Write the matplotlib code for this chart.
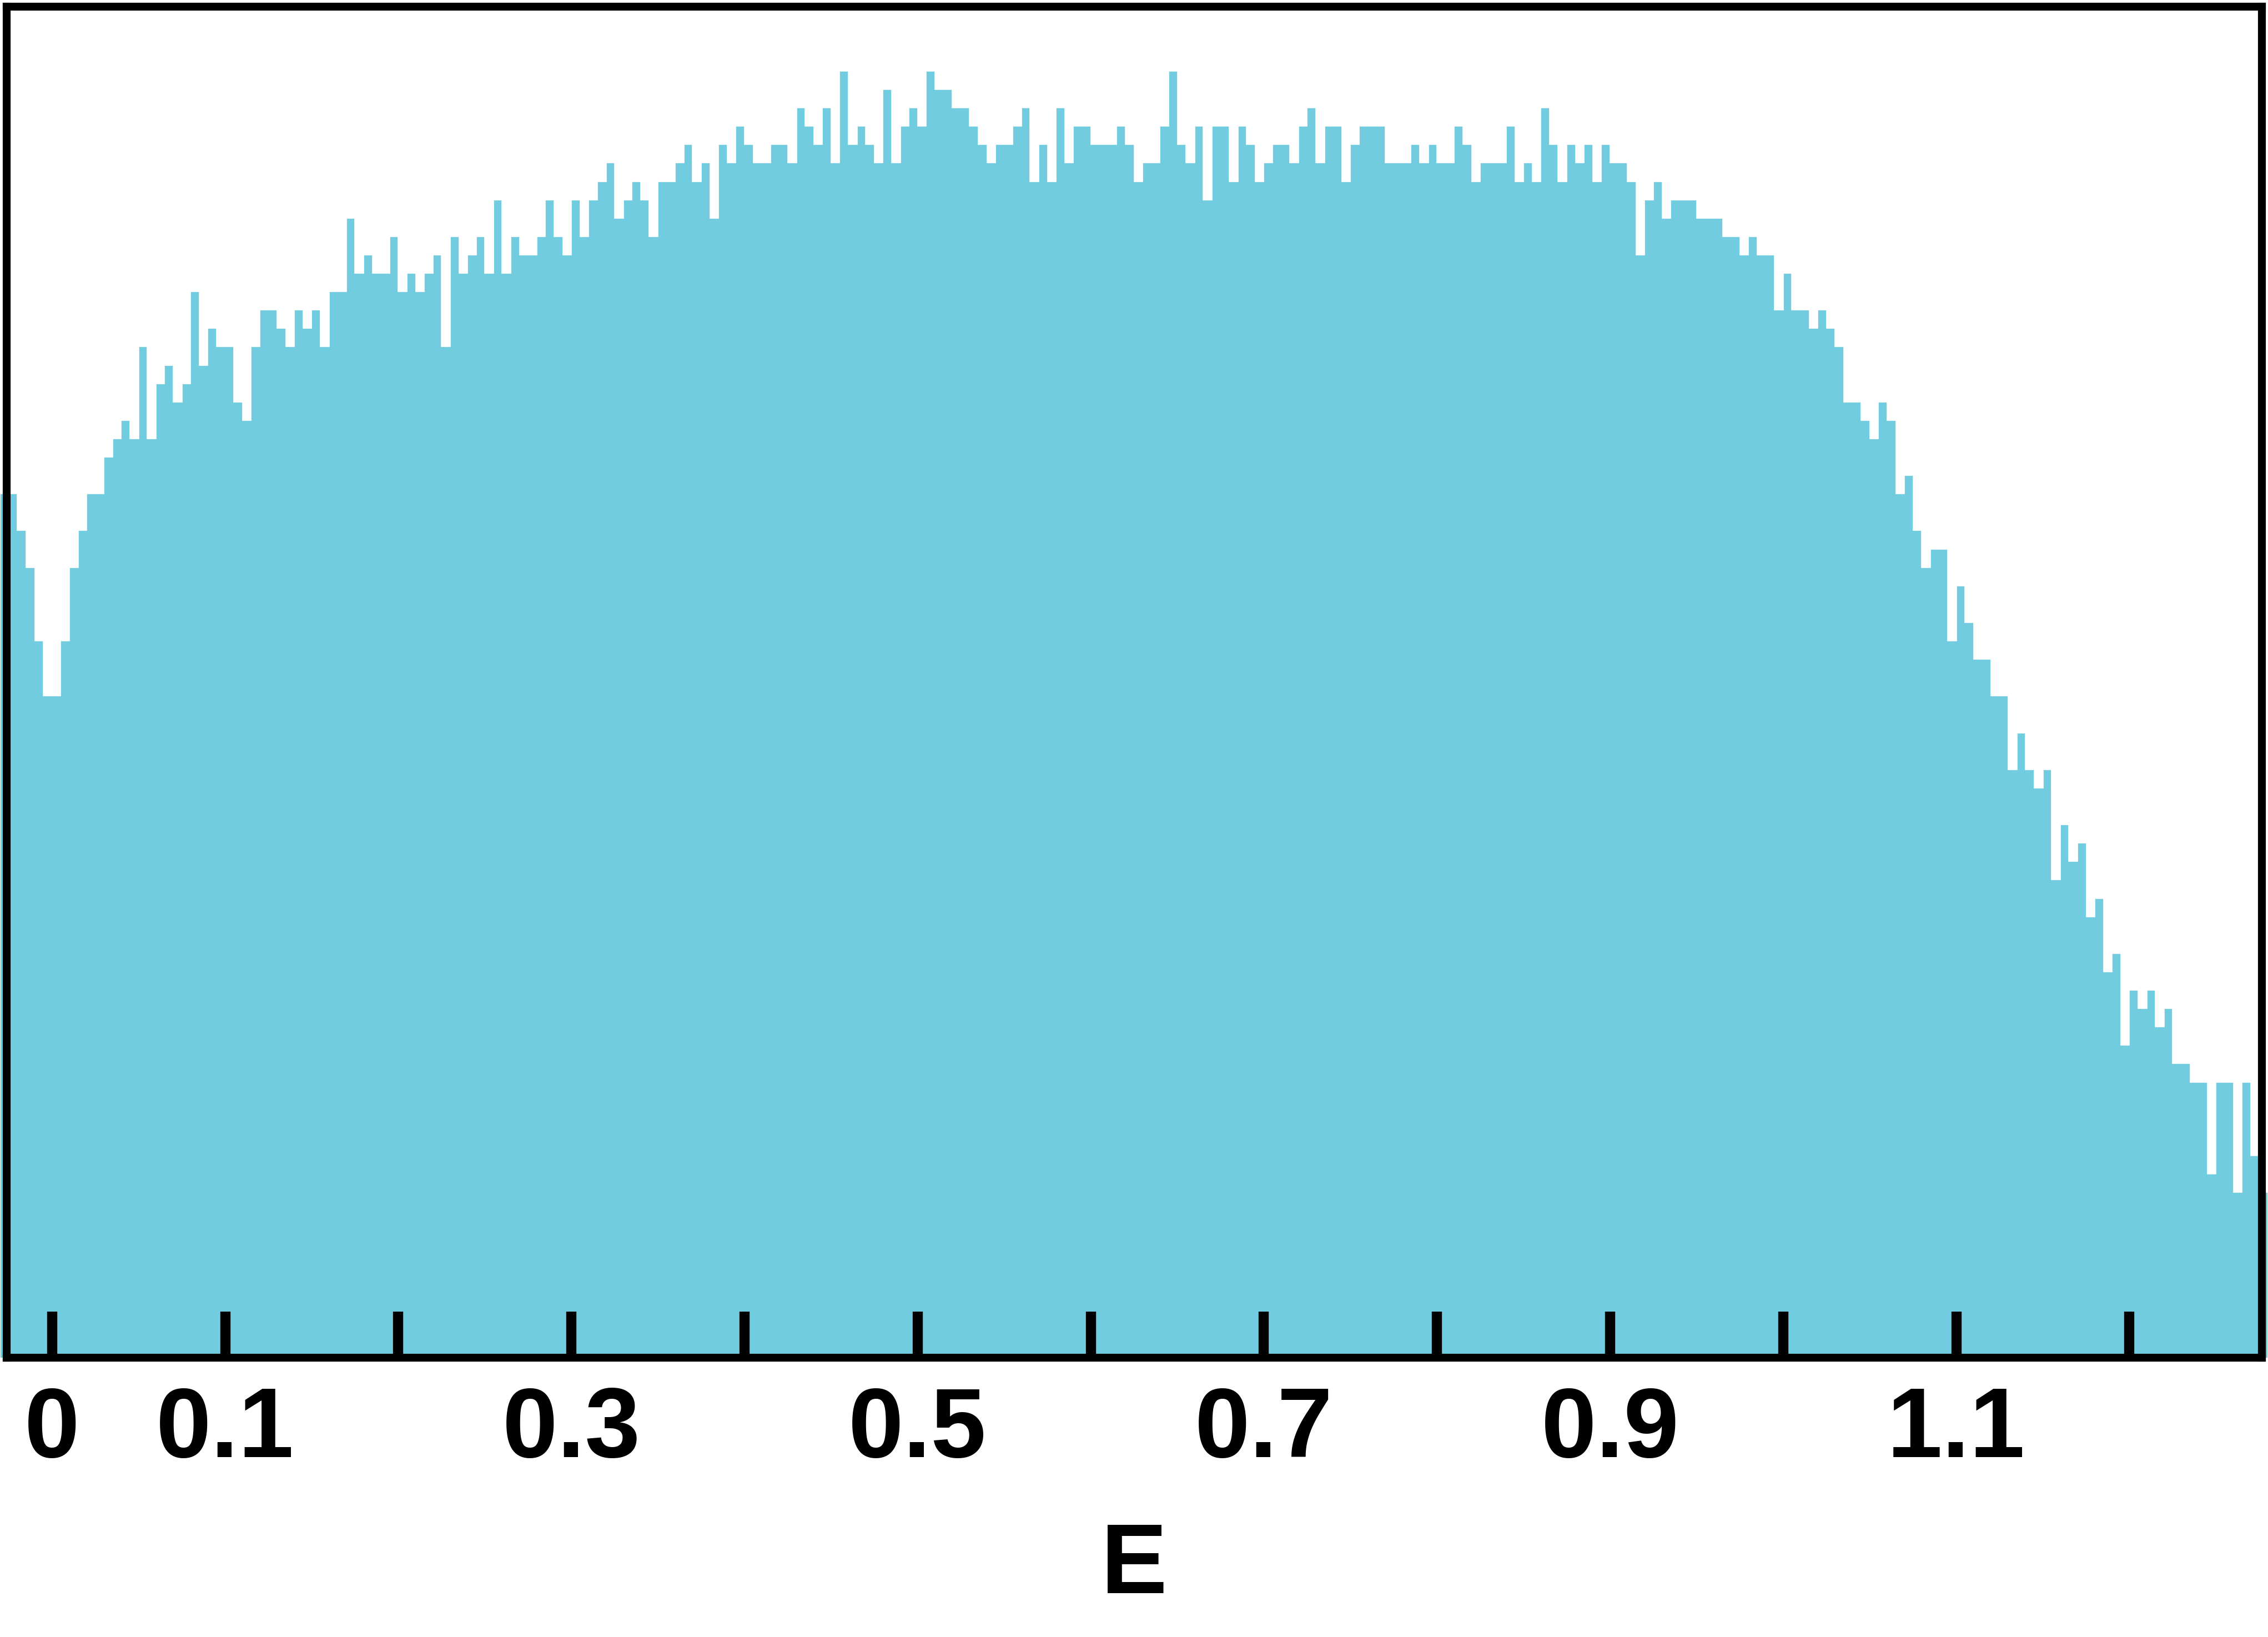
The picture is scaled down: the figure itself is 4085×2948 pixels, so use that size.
import numpy as np
import matplotlib.pyplot as plt


# =========================
# DATA
# =========================

BIN_START = -0.030
BIN_WIDTH = 0.005

# counts per bin (bins of width 0.005 starting at -0.030)
COUNTS = [
    47,
    47, 45, 43, 39, 36, 36, 39, 43, 45, 47,
    47, 49, 50, 51, 50, 55, 50, 53, 54, 52,
    53, 58, 54, 56, 55, 55, 52, 51, 55, 57,
    57, 56, 55, 57, 56, 57, 55, 58, 58, 62,
    59, 60, 59, 59, 61, 58, 59, 58, 59, 60,
    55, 61, 59, 60, 61, 59, 63, 59, 61, 60,
    60, 61, 63, 61, 60, 63, 61, 63, 64, 65,
    62, 63, 64, 63, 61, 64, 64, 65, 66, 64,
    65, 62, 66, 65, 67, 66, 65, 65, 66, 66,
    65, 68, 67, 66, 68, 65, 70, 66, 67, 66,
    65, 69, 65, 67, 68, 67, 70, 69, 69, 68,
    68, 67, 66, 65, 66, 66, 67, 68, 64, 66,
    64, 68, 65, 67, 67, 66, 66, 66, 67, 66,
    64, 65, 65, 67, 70, 66, 65, 67, 63, 67,
    67, 64, 67, 66, 64, 65, 66, 66, 65, 67,
    68, 65, 67, 67, 64, 66, 67, 67, 67, 65,
    65, 65, 66, 65, 66, 65, 65, 67, 66, 64,
    65, 65, 65, 67, 64, 65, 64, 68, 66, 64,
    66, 65, 66, 64, 66, 65, 65, 64, 60, 63,
    64, 62, 63, 63, 63, 62, 62, 62, 61, 61,
    60, 61, 60, 60, 57, 59, 57, 57, 56, 57,
    56, 55, 52, 52, 51, 50, 52, 51, 47, 48,
    45, 43, 44, 44, 39, 42, 40, 38, 38, 36,
    36, 32, 34, 32, 31, 32, 26, 29, 27, 28,
    24, 25, 21, 22, 17, 20, 19, 20, 18, 19,
    16, 16, 15, 15, 10, 15, 15, 9, 15, 11,
    9,
]

TICKS = [0.0, 0.1, 0.2, 0.3, 0.4, 0.5, 0.6, 0.7, 0.8, 0.9, 1.0, 1.1, 1.2]
TICK_LABELS = ["0", "0.1", "", "0.3", "", "0.5", "", "0.7", "", "0.9", "", "1.1", ""]

X_LABEL = "E"

BAR_COLOR = "#70CCDE"


# =========================
# PLOT
# =========================

plt.rcParams["font.family"] = ["Liberation Sans", "DejaVu Sans"]

fig = plt.figure(figsize=(4086 / 300, 2948 / 300), dpi=300)
ax = fig.add_axes([0.00303, 0.1706, 0.99403, 0.8253])

edges = BIN_START + BIN_WIDTH * np.arange(len(COUNTS) + 1)
ax.stairs(
    COUNTS,
    edges,
    fill=True,
    facecolor=BAR_COLOR,
    edgecolor="white",
    linewidth=0.4,
    clip_on=False,
)

ax.set_xlim(-0.0261, 1.2765)
ax.set_ylim(0, 73.5)

ax.set_yticks([])
ax.set_xticks(TICKS, TICK_LABELS)
ax.tick_params(axis="x", direction="in", length=20, width=4.4, pad=12, labelsize=43)
for lbl in ax.get_xticklabels():
    lbl.set_fontweight("bold")

ax.set_xlabel(X_LABEL, fontsize=43, fontweight="bold", labelpad=19)

for spine in ax.spines.values():
    spine.set_linewidth(3.4)
    spine.set_zorder(3)

fig.savefig("out.png", dpi=300)
